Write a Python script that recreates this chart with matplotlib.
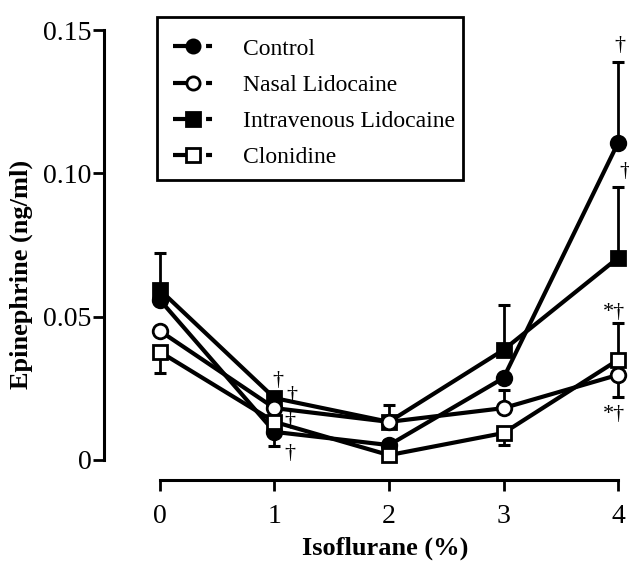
import matplotlib
matplotlib.use('Agg')
import matplotlib.pyplot as plt
from matplotlib.lines import Line2D
from matplotlib.patches import Rectangle
import numpy as np

plt.rcParams['font.family'] = ['Liberation Serif', 'DejaVu Serif']
plt.rcParams['lines.scale_dashes'] = False

# ---------------- data ----------------
iso = [0, 1, 2, 3, 4]
names = ['Control', 'Nasal Lidocaine', 'Intravenous Lidocaine', 'Clonidine']

control = [0.0558, 0.0098, 0.0052, 0.0286, 0.1106]
control_lo = [0, 0.0049, 0, 0, 0]
control_hi = [0, 0, 0.0018, 0, 0.0282]

nasal = [0.0450, 0.0181, 0.0133, 0.0181, 0.0297]
nasal_lo = [0, 0, 0, 0, 0.0077]
nasal_hi = [0, 0, 0.0060, 0.0063, 0]

iv = [0.0593, 0.0216, 0.0133, 0.0384, 0.0705]
iv_lo = [0, 0, 0, 0, 0]
iv_hi = [0.0130, 0.0015, 0, 0.0157, 0.0247]

clon = [0.0377, 0.0133, 0.0017, 0.0094, 0.0349]
clon_lo = [0.0074, 0, 0, 0.0042, 0]
clon_hi = [0, 0, 0, 0, 0.0129]

# significance marks (x, y, text)
marks_x = [1.03, 1.155, 1.135, 1.135, 4.02, 4.06, 3.965, 3.965]
marks_y = [0.0279, 0.0225, 0.0133, 0.0024, 0.1445, 0.1005, 0.0513, 0.0157]
marks_t = ['\u2020', '\u2020', '\u2020', '\u2020', '\u2020', '\u2020',
           '*\u2020', '*\u2020']

yticks = [0, 0.05, 0.10, 0.15]
ytick_labels = ['0', '0.05', '0.10', '0.15']

# ---------------- styles ----------------
series = [
    (control, control_lo, control_hi, 'o', 'black'),
    (iv, iv_lo, iv_hi, 's', 'black'),
    (nasal, nasal_lo, nasal_hi, 'o', 'white'),
    (clon, clon_lo, clon_hi, 's', 'white'),
]
msize = 10.5
lw = 3.0

fig = plt.figure(figsize=(6.29, 5.62), dpi=100)
ax = fig.add_axes([104/629, 82/562, 525/629, 450/562])

for vals, lo, hi, mk, fc in series:
    ax.errorbar(iso, vals, yerr=[lo, hi], fmt='none', ecolor='black',
                elinewidth=2.0, capsize=4.5, capthick=2.2, zorder=2)
for vals, lo, hi, mk, fc in series:
    ax.plot(iso, vals, color='black', lw=lw, marker=mk, ms=msize,
            mfc=fc, mec='black', mew=2.0, zorder=3, clip_on=False)

for x, y, t in zip(marks_x, marks_y, marks_t):
    ax.text(x, y, t, fontsize=16, ha='center', va='center', clip_on=False)

ax.set_xlim(-0.489, 4.096)
ax.set_ylim(-0.00698, 0.15)
ax.spines['top'].set_visible(False)
ax.spines['right'].set_visible(False)
ax.spines['left'].set_bounds(0, 0.15)
ax.spines['bottom'].set_bounds(0, 4)
ax.spines['left'].set_linewidth(2.2)
ax.spines['bottom'].set_linewidth(2.2)

ax.set_xticks(iso)
ax.set_xticklabels([str(v) for v in iso])
ax.set_yticks(yticks)
ax.set_yticklabels(ytick_labels)
ax.tick_params(axis='both', direction='out', length=8, width=2.0,
               labelsize=20)
ax.tick_params(axis='y', pad=1)
ax.tick_params(axis='x', pad=9)

ax.set_xlabel('Isoflurane (%)', fontsize=19, fontweight='bold')
ax.set_ylabel('Epinephrine (ng/ml)', fontsize=19, fontweight='bold')
ax.xaxis.set_label_coords(0.535, -0.125)
ax.yaxis.set_label_coords(-0.135, 0.456)

# legend with "-o-" style handles, frame drawn separately
handle_style = [('o', 'black'), ('o', 'white'), ('s', 'black'), ('s', 'white')]
handles = [Line2D([0], [0], color='black', lw=lw, marker=mk, ms=9.5,
                  mfc=fc, mec='black', mew=2.0,
                  dashes=(10.8, 13.0, 4.3, 40))
           for mk, fc in handle_style]
leg = ax.legend(handles, names, loc='upper left',
                bbox_to_anchor=(0.1314, 0.982), borderaxespad=0,
                fontsize=17, frameon=False, handlelength=1.7,
                handletextpad=1.25, labelspacing=0.62, borderpad=0)
box = Rectangle((0.101, 0.667), 0.583, 0.362, transform=ax.transAxes,
                fill=False, edgecolor='black', lw=2.0, clip_on=False,
                zorder=5)
ax.add_patch(box)

fig.savefig('out.png', dpi=100)
